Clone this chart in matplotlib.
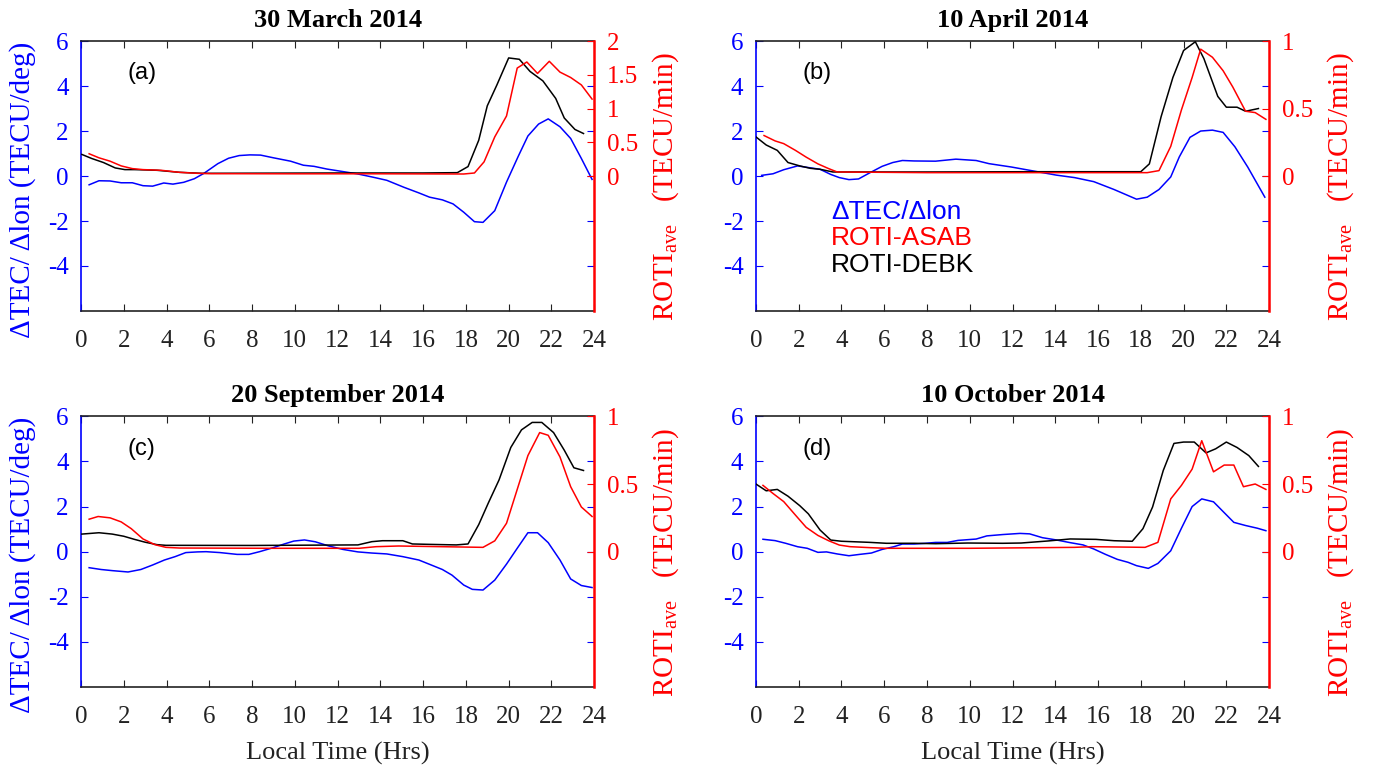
import numpy as np
import matplotlib
matplotlib.use('Agg')
import matplotlib.pyplot as plt

plt.rcParams['font.family'] = ['Liberation Serif', 'DejaVu Serif']
plt.rcParams['mathtext.fontset'] = 'custom'
plt.rcParams['mathtext.rm'] = 'Liberation Serif'

# ---------------- (a) 30 March 2014 ----------------
t_a_dtec = [0.38, 0.84, 1.36, 1.88, 2.4, 2.9, 3.35, 3.87, 4.3, 4.8, 5.3, 5.75, 6.4, 6.9, 7.4, 7.9,
            8.4, 9.0, 9.8, 10.4, 10.9, 11.5, 12.1, 12.9, 13.6, 14.3, 15.1, 15.8, 16.3, 16.9, 17.4,
            17.9, 18.4, 18.8, 19.35, 19.9, 20.45, 20.9, 21.4, 21.85, 22.4, 22.9, 23.4, 23.9]
a_dtec = [-0.39, -0.21, -0.22, -0.30, -0.30, -0.43, -0.45, -0.31, -0.36, -0.28, -0.12, 0.12, 0.55,
          0.79, 0.91, 0.94, 0.93, 0.81, 0.66, 0.48, 0.43, 0.31, 0.22, 0.10, -0.04, -0.19, -0.50,
          -0.75, -0.94, -1.06, -1.24, -1.61, -2.03, -2.06, -1.54, -0.27, 0.88, 1.78, 2.31, 2.54,
          2.19, 1.67, 0.78, -0.15]
t_a_debk = [0.04, 0.5, 1.05, 1.6, 2.05, 2.5, 3.55, 4.6, 5.65, 8.0, 12.0, 16.0, 17.6, 18.1, 18.6,
            19.0, 19.45, 20.0, 20.5, 21.0, 21.6, 22.2, 22.6, 23.1, 23.5]
a_debk = [0.32, 0.26, 0.20, 0.12, 0.095, 0.095, 0.085, 0.055, 0.04, 0.042, 0.045, 0.045, 0.05,
          0.14, 0.53, 1.04, 1.35, 1.75, 1.73, 1.55, 1.41, 1.15, 0.86, 0.69, 0.63]
t_a_asab = [0.38, 0.84, 1.36, 1.88, 2.4, 2.9, 3.75, 4.6, 5.45, 6.1, 10.0, 14.0, 17.9, 18.4, 18.85,
            19.35, 19.9, 20.4, 20.85, 21.35, 21.9, 22.4, 22.9, 23.4, 23.9]
a_asab = [0.33, 0.27, 0.22, 0.15, 0.11, 0.095, 0.085, 0.055, 0.04, 0.035, 0.033, 0.033, 0.03,
          0.045, 0.21, 0.58, 0.89, 1.60, 1.69, 1.52, 1.70, 1.54, 1.46, 1.35, 1.14]

# ---------------- (b) 10 April 2014 ----------------
t_b_dtec = [0.27, 0.8, 1.3, 1.95, 2.5, 3.0, 3.5, 3.9, 4.35, 4.8, 5.3, 5.9, 6.4, 6.85, 7.4, 8.4,
            9.35, 10.3, 10.9, 11.95, 13.0, 14.05, 14.9, 15.8, 16.75, 17.8, 18.3, 18.85, 19.4, 19.8,
            20.3, 20.8, 21.35, 21.85, 22.4, 23.0, 23.8]
b_dtec = [0.03, 0.10, 0.28, 0.45, 0.37, 0.30, 0.07, -0.07, -0.16, -0.13, 0.13, 0.43, 0.60, 0.69,
          0.67, 0.66, 0.75, 0.69, 0.55, 0.40, 0.22, 0.04, -0.07, -0.25, -0.60, -1.03, -0.94, -0.60,
          -0.04, 0.85, 1.72, 2.00, 2.04, 1.94, 1.30, 0.40, -0.94]
t_b_debk = [0.0, 0.48, 1.0, 1.5, 2.05, 2.55, 3.0, 3.6, 8.0, 13.0, 18.0, 18.4, 18.95, 19.5, 20.0,
            20.55, 20.95, 21.6, 22.0, 22.5, 22.9, 23.5]
b_debk = [0.29, 0.23, 0.19, 0.10, 0.075, 0.057, 0.05, 0.03, 0.03, 0.032, 0.032, 0.09, 0.44, 0.73,
          0.93, 0.995, 0.87, 0.59, 0.51, 0.51, 0.48, 0.50]
t_b_asab = [0.38, 0.9, 1.3, 1.85, 2.35, 2.9, 3.4, 3.8, 8.0, 13.0, 18.3, 18.85, 19.4, 19.9, 20.4,
            20.8, 21.35, 21.85, 22.3, 22.9, 23.35, 23.85]
b_asab = [0.30, 0.26, 0.24, 0.19, 0.14, 0.09, 0.055, 0.03, 0.025, 0.025, 0.025, 0.04, 0.22, 0.49,
          0.73, 0.94, 0.88, 0.78, 0.66, 0.48, 0.47, 0.42]

# ---------------- (c) 20 September 2014 ----------------
t_c_dtec = [0.38, 0.94, 1.46, 2.2, 2.8, 3.35, 3.9, 4.4, 4.9, 5.45, 5.85, 6.5, 7.3, 7.85, 8.35,
            9.0, 9.5, 9.95, 10.45, 10.95, 11.6, 12.25, 12.95, 13.6, 14.3, 15.05, 15.8, 16.3, 16.9,
            17.35, 17.9, 18.3, 18.8, 19.35, 19.9, 20.4, 20.9, 21.35, 21.85, 22.4, 22.9, 23.4, 23.9]
c_dtec = [-0.71, -0.79, -0.84, -0.90, -0.79, -0.59, -0.37, -0.22, -0.04, -0.01, 0.0, -0.04, -0.12,
          -0.12, 0.0, 0.18, 0.34, 0.47, 0.52, 0.44, 0.25, 0.10, -0.01, -0.06, -0.10, -0.22, -0.37,
          -0.56, -0.79, -1.04, -1.48, -1.67, -1.70, -1.26, -0.55, 0.15, 0.84, 0.84, 0.40, -0.37,
          -1.21, -1.50, -1.59]
t_c_debk = [0.04, 0.84, 1.46, 2.0, 2.5, 3.0, 3.55, 3.97, 8.0, 12.95, 13.6, 14.1, 15.05, 15.5, 16.3,
            17.55, 18.1, 18.6, 19.05, 19.55, 20.1, 20.6, 21.1, 21.55, 22.1, 22.6, 23.05, 23.5]
c_debk = [0.13, 0.14, 0.13, 0.114, 0.091, 0.07, 0.052, 0.047, 0.046, 0.05, 0.074, 0.081, 0.081,
          0.057, 0.054, 0.05, 0.057, 0.20, 0.36, 0.53, 0.77, 0.90, 0.955, 0.955, 0.88, 0.75, 0.62,
          0.60]
t_c_asab = [0.38, 0.8, 1.36, 1.88, 2.35, 2.9, 3.45, 3.97, 4.6, 9.0, 13.0, 13.8, 14.85, 18.8, 19.35,
            19.9, 20.4, 20.9, 21.45, 21.85, 22.4, 22.9, 23.4, 23.9]
c_asab = [0.24, 0.26, 0.25, 0.22, 0.17, 0.094, 0.052, 0.032, 0.027, 0.025, 0.025, 0.037, 0.042,
          0.032, 0.08, 0.21, 0.46, 0.71, 0.88, 0.86, 0.70, 0.48, 0.33, 0.26]

# ---------------- (d) 10 October 2014 ----------------
t_d_dtec = [0.33, 0.9, 1.4, 1.95, 2.4, 2.9, 3.3, 3.8, 4.35, 4.85, 5.4, 5.9, 6.45, 6.85, 7.4, 7.9,
            8.4, 8.95, 9.45, 10.3, 10.8, 11.55, 12.35, 12.8, 13.4, 14.05, 14.7, 15.3, 15.8, 16.35,
            16.9, 17.4, 17.8, 18.35, 18.8, 19.4, 19.9, 20.4, 20.85, 21.4, 21.9, 22.35, 22.9, 23.45,
            23.85]
d_dtec = [0.55, 0.49, 0.37, 0.22, 0.15, -0.03, -0.01, -0.10, -0.18, -0.12, -0.06, 0.10, 0.22, 0.34,
          0.34, 0.37, 0.41, 0.41, 0.50, 0.56, 0.70, 0.76, 0.81, 0.79, 0.62, 0.52, 0.40, 0.30, 0.12,
          -0.12, -0.34, -0.47, -0.62, -0.74, -0.52, 0.04, 1.04, 2.00, 2.34, 2.21, 1.73, 1.30, 1.16,
          1.04, 0.93]
t_d_debk = [0.0, 0.48, 1.0, 1.5, 2.05, 2.45, 3.0, 3.5, 4.0, 5.3, 6.1, 7.4, 8.4, 9.9, 11.55, 12.4,
            13.65, 14.7, 15.9, 16.75, 17.6, 18.1, 18.55, 19.05, 19.55, 20.0, 20.5, 21.05, 21.5, 22.0,
            22.5, 23.05, 23.5]
d_debk = [0.50, 0.45, 0.46, 0.41, 0.34, 0.28, 0.16, 0.086, 0.077, 0.069, 0.062, 0.062, 0.059,
          0.064, 0.062, 0.064, 0.079, 0.094, 0.091, 0.081, 0.077, 0.17, 0.33, 0.60, 0.80, 0.81,
          0.81, 0.73, 0.76, 0.81, 0.77, 0.71, 0.63]
t_d_asab = [0.33, 0.8, 1.3, 1.85, 2.35, 2.9, 3.4, 3.9, 4.4, 5.3, 6.1, 10.0, 14.9, 15.7, 18.2, 18.8,
            19.4, 19.9, 20.4, 20.85, 21.4, 21.9, 22.35, 22.8, 23.35, 23.85]
d_asab = [0.49, 0.43, 0.37, 0.27, 0.18, 0.12, 0.081, 0.049, 0.037, 0.03, 0.025, 0.025, 0.032,
          0.037, 0.032, 0.069, 0.39, 0.49, 0.61, 0.82, 0.59, 0.64, 0.64, 0.48, 0.50, 0.46]

titles = ['30 March 2014', '10 April 2014', '20 September 2014', '10 October 2014']
tags = ['(a)', '(b)', '(c)', '(d)']
roti_top = [2, 1, 1, 1]
roti_ticks = [[0, 0.5, 1, 1.5, 2], [0, 0.5, 1], [0, 0.5, 1], [0, 0.5, 1]]

panels = [
    (t_a_dtec, a_dtec, t_a_asab, a_asab, t_a_debk, a_debk),
    (t_b_dtec, b_dtec, t_b_asab, b_asab, t_b_debk, b_debk),
    (t_c_dtec, c_dtec, t_c_asab, c_asab, t_c_debk, c_debk),
    (t_d_dtec, d_dtec, t_d_asab, d_asab, t_d_debk, d_debk),
]

# axes boxes in figure fractions [left, bottom, width, height]
boxes = [
    [0.0584, 0.5956, 0.370, 0.351],
    [0.5450, 0.5956, 0.370, 0.351],
    [0.0584, 0.1066, 0.370, 0.352],
    [0.5450, 0.1066, 0.370, 0.352],
]

fig = plt.figure(figsize=(13.87, 7.69), dpi=100)
tick_fs = 18

for i, (tb, vb, tr, vr, tk, vk) in enumerate(panels):
    ax = fig.add_axes(boxes[i])
    tw = ax.twinx()

    lb, = ax.plot(tb, vb, color='blue', lw=1.1)
    lk, = tw.plot(tk, vk, color='black', lw=1.1)
    lr, = tw.plot(tr, vr, color='red', lw=1.1)

    ax.set_xlim(0, 24)
    ax.set_ylim(-6, 6)
    ax.set_xticks(np.arange(0, 25, 2))
    ax.set_yticks([-4, -2, 0, 2, 4, 6])
    ax.set_yticklabels(['-4', '-2', '0', '2', '4', '6'])
    tw.set_ylim(-roti_top[i], roti_top[i])
    tw.set_yticks(roti_ticks[i])
    tw.set_yticklabels(['%g' % v for v in roti_ticks[i]])

    ax.tick_params(axis='x', direction='in', length=5, top=True, bottom=True,
                   color='#222222', labelsize=tick_fs, labelcolor='#222222', pad=14)
    ax.tick_params(axis='y', direction='in', length=5, left=True, right=True,
                   color='blue', labelsize=tick_fs, labelcolor='blue', pad=9)
    tw.tick_params(axis='y', direction='in', length=5, color='red',
                   labelsize=tick_fs, labelcolor='red', pad=9)

    for s in ['top', 'bottom']:
        ax.spines[s].set_color('#222222')
        tw.spines[s].set_visible(False)
    ax.spines['left'].set_color('blue')
    ax.spines['right'].set_visible(False)
    tw.spines['left'].set_visible(False)
    tw.spines['right'].set_color('red')
    for s in ax.spines.values():
        s.set_linewidth(1.2)
    tw.spines['right'].set_linewidth(1.8)

    ax.set_title(titles[i], fontsize=19, fontweight='bold', pad=10)
    ax.text(0.09, 0.88, tags[i], transform=ax.transAxes, fontsize=17,
            family='Liberation Sans', va='center')

    tw.set_ylabel(r'ROTI$_{\mathrm{ave}}$   (TECU/min)', color='red', fontsize=21)
    tw.yaxis.set_label_coords(1.11, 0.46)
    if i % 2 == 0:
        ax.set_ylabel('\u0394TEC/ \u0394lon (TECU/deg)', color='blue', fontsize=21)
        ax.yaxis.set_label_coords(-0.088, 0.45)
    if i >= 2:
        ax.set_xlabel('Local Time (Hrs)', fontsize=19, color='#222222', labelpad=10)

    if i == 1:
        leg = tw.legend([lb, lr, lk], ['\u0394TEC/\u0394lon', 'ROTI-ASAB', 'ROTI-DEBK'],
                        loc='upper left', bbox_to_anchor=(0.1, 0.5), frameon=False,
                        handlelength=0, handletextpad=0, labelspacing=0.1,
                        labelcolor=['blue', 'red', 'black'],
                        prop={'family': 'Liberation Sans', 'size': 19})
        for h in leg.legend_handles:
            h.set_visible(False)

fig.savefig('out.png', dpi=100)
